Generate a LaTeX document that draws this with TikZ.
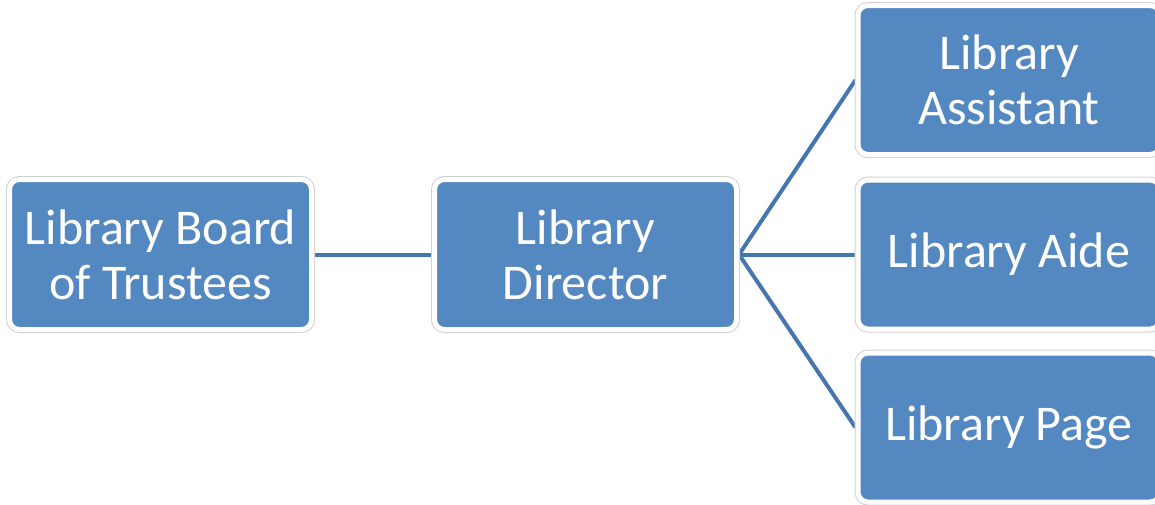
\documentclass[tikz,border=0pt]{standalone}
\usepackage{fontspec}
\setmainfont{Carlito}
\usetikzlibrary{backgrounds}
\definecolor{boxblue}{RGB}{84,136,193}
\definecolor{lineblue}{RGB}{70,118,175}
\begin{document}
\begin{tikzpicture}[x=1pt,y=-1pt]
	\tikzset{
		post/.style={rectangle,rounded corners=10pt,fill=boxblue,draw=white,line width=5pt,
			preaction={draw=black!18,line width=7pt},
			minimum width=302pt,minimum height=150pt,align=center,text=white,
			font=\fontsize{50}{55}\selectfont},
		link/.style={draw=lineblue,line width=4pt}
	}
	\useasboundingbox (0,0) rectangle (1155,504);
	\node[post] (board) at (160.5,254.5) {Library Board\\of Trustees};
	\node[post] (director) at (585.5,254.5) {Library\\Director};
	\node[post,minimum height=149pt] (assistant) at (1009,80) {Library\\Assistant};
	\node[post,minimum height=149pt] (aide) at (1009,254.5) {Library Aide};
	\node[post,minimum height=149pt] (page) at (1009,427.5) {Library Page};
	\begin{scope}[on background layer]
		\draw[link] (board.east)--(director.west);
		\draw[link] (director.east)--(assistant.west);
		\draw[link] (director.east)--(aide.west);
		\draw[link] (director.east)--(page.west);
	\end{scope}
\end{tikzpicture}
\end{document}
